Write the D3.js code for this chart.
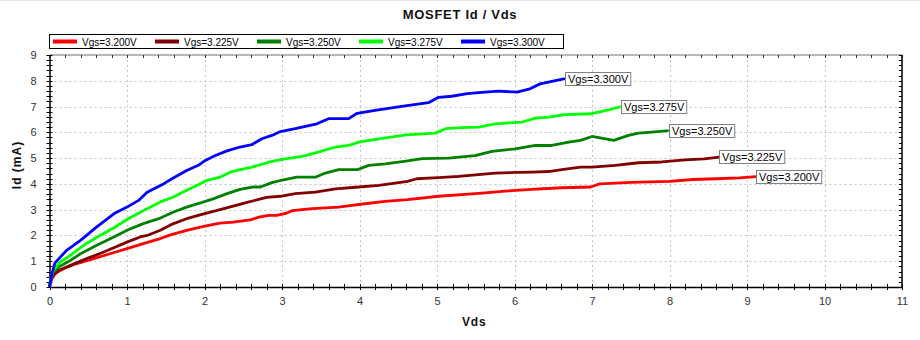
<!DOCTYPE html>
<html>
<head>
<meta charset="utf-8">
<script src="https://cdn.jsdelivr.net/npm/d3@7/dist/d3.min.js"></script>
<style>
  html, body { margin: 0; padding: 0; background: #fff; }
  svg { display: block; font-family: "Liberation Sans", Arial, sans-serif; }
</style>
</head>
<body>
<svg id="chart" width="920" height="340"></svg>
<script>
// Drain current Id (mA) versus drain-source voltage Vds (V), one curve per gate voltage
const seriesNames = ["Vgs=3.200V", "Vgs=3.225V", "Vgs=3.250V", "Vgs=3.275V", "Vgs=3.300V"];
const seriesColors = ["#ff0000", "#800000", "#008000", "#00ff00", "#0000ff"];

const vgs3200 = [[0,0],[0.01,0.19],[0.07,0.52],[0.18,0.71],[0.35,0.91],[0.57,1.1],[0.78,1.29],[1.0,1.49],[1.21,1.68],[1.43,1.88],[1.56,2.02],[1.77,2.2],[1.99,2.35],[2.2,2.48],[2.37,2.52],[2.59,2.6],[2.7,2.71],[2.83,2.78],[2.93,2.78],[3.06,2.87],[3.13,2.96],[3.39,3.04],[3.73,3.1],[3.9,3.17],[4.07,3.23],[4.33,3.32],[4.62,3.39],[5.02,3.52],[5.36,3.59],[5.58,3.64],[5.88,3.72],[6.22,3.79],[6.61,3.85],[6.98,3.88],[7.1,4.0],[7.5,4.06],[8.0,4.1],[8.3,4.17],[8.6,4.2],[8.9,4.23],[9.12,4.28]];
const vgs3225 = [[0,0],[0.03,0.39],[0.12,0.65],[0.27,0.84],[0.48,1.1],[0.7,1.36],[1.0,1.74],[1.17,1.94],[1.26,2.0],[1.43,2.2],[1.6,2.46],[1.77,2.65],[1.99,2.84],[2.2,3.0],[2.37,3.14],[2.55,3.28],[2.7,3.4],[2.8,3.48],[2.98,3.52],[3.17,3.62],[3.43,3.68],[3.69,3.81],[3.99,3.88],[4.25,3.94],[4.62,4.1],[4.74,4.2],[5.02,4.24],[5.28,4.29],[5.75,4.42],[6.22,4.46],[6.44,4.48],[6.61,4.55],[6.85,4.65],[7.0,4.65],[7.3,4.72],[7.6,4.82],[7.9,4.85],[8.2,4.93],[8.45,4.97],[8.64,5.04]];
const vgs3250 = [[0,0],[0.03,0.52],[0.12,0.78],[0.27,1.03],[0.4,1.29],[0.61,1.62],[0.83,1.94],[1.0,2.2],[1.21,2.46],[1.41,2.65],[1.6,2.91],[1.77,3.1],[1.99,3.3],[2.12,3.43],[2.29,3.62],[2.46,3.79],[2.63,3.88],[2.72,3.88],[2.87,4.05],[3.02,4.16],[3.19,4.26],[3.43,4.26],[3.56,4.42],[3.73,4.55],[3.97,4.55],[4.12,4.72],[4.33,4.78],[4.6,4.88],[4.81,4.98],[5.15,5.0],[5.49,5.1],[5.71,5.26],[6.01,5.36],[6.27,5.49],[6.48,5.49],[6.7,5.62],[6.85,5.69],[7.0,5.84],[7.28,5.69],[7.47,5.88],[7.6,5.97],[7.77,6.01],[7.99,6.07]];
const vgs3275 = [[0,0],[0.02,0.35],[0.05,0.65],[0.14,0.97],[0.27,1.23],[0.44,1.62],[0.65,2.0],[0.85,2.33],[1.0,2.62],[1.26,3.04],[1.43,3.3],[1.6,3.49],[1.77,3.75],[1.94,4.0],[2.03,4.14],[2.2,4.26],[2.35,4.48],[2.61,4.65],[2.83,4.84],[3.0,4.95],[3.26,5.07],[3.47,5.23],[3.69,5.43],[3.86,5.49],[3.99,5.62],[4.25,5.75],[4.6,5.9],[4.98,5.97],[5.11,6.14],[5.32,6.18],[5.54,6.2],[5.75,6.33],[6.1,6.4],[6.27,6.55],[6.44,6.59],[6.65,6.69],[6.98,6.72],[7.08,6.78],[7.23,6.88],[7.37,7.0]];
const vgs3300 = [[0,0],[0.03,0.5],[0.07,0.93],[0.22,1.42],[0.4,1.81],[0.61,2.33],[0.83,2.84],[1.0,3.1],[1.15,3.36],[1.26,3.68],[1.47,4.0],[1.58,4.2],[1.77,4.52],[1.92,4.72],[2.01,4.91],[2.14,5.1],[2.29,5.28],[2.46,5.43],[2.61,5.52],[2.74,5.75],[2.87,5.88],[2.98,6.03],[3.17,6.14],[3.45,6.33],[3.6,6.53],[3.86,6.53],[3.97,6.74],[4.2,6.85],[4.59,7.03],[4.89,7.15],[5.02,7.36],[5.19,7.4],[5.39,7.5],[5.58,7.55],[5.79,7.6],[6.03,7.56],[6.2,7.69],[6.33,7.88],[6.65,8.08]];

const seriesData = [vgs3200, vgs3225, vgs3250, vgs3275, vgs3300];

const xTicks = [0,1,2,3,4,5,6,7,8,9,10,11];
const yTicks = [0,1,2,3,4,5,6,7,8,9];

(function draw() {
  const svg = d3.select("#chart");
  const W = 920, H = 340;
  const pLeft = 49.5, pRight = 902, pTop = 55, pBottom = 287;

  const x = d3.scaleLinear().domain([0, 11]).range([pLeft, pRight]);
  const y = d3.scaleLinear().domain([0, 9]).range([pBottom, pTop]);
  const snap = v => Math.round(v) + 0.5;

  svg.append("rect").attr("width", W).attr("height", H).attr("fill", "#fff");
  svg.append("line").attr("x1", 0).attr("x2", W).attr("y1", 0.5).attr("y2", 0.5)
    .attr("stroke", "#e6e6e6");

  // Title
  svg.append("text").attr("x", 460).attr("y", 19).attr("text-anchor", "middle")
    .attr("font-size", 13).attr("font-weight", "bold").attr("letter-spacing", 0.7)
    .attr("fill", "#111").text("MOSFET Id / Vds");

  // Grid
  const grid = svg.append("g").attr("stroke", "#c4c4c4").attr("stroke-dasharray", "2,3");
  grid.selectAll(".gx").data(xTicks.slice(1, -1)).join("line")
    .attr("x1", d => snap(x(d))).attr("x2", d => snap(x(d)))
    .attr("y1", pTop).attr("y2", pBottom);
  grid.selectAll(".gy").data(yTicks.slice(1, -1)).join("line")
    .attr("x1", pLeft).attr("x2", pRight)
    .attr("y1", d => snap(y(d))).attr("y2", d => snap(y(d)));

  // Minor tick positions (0.2 step)
  const xMinor = d3.range(0, 56).map(i => i * 0.2).filter(v => v <= 11.0001);
  const yMinor = d3.range(0, 46).map(i => i * 0.2).filter(v => v <= 9.0001);

  // Top frame with inward ticks
  const frame = svg.append("g");
  frame.append("line").attr("x1", pLeft).attr("x2", pRight).attr("y1", pTop).attr("y2", pTop)
    .attr("stroke", "#a0a0a0").attr("stroke-width", 1.5);
  frame.selectAll(".tt").data(xMinor).join("line")
    .attr("x1", d => snap(x(d))).attr("x2", d => snap(x(d)))
    .attr("y1", pTop).attr("y2", pTop + 3).attr("stroke", "#333");

  // Right frame with inward ticks
  frame.append("line").attr("x1", pRight).attr("x2", pRight).attr("y1", pTop).attr("y2", pBottom)
    .attr("stroke", "#000").attr("stroke-width", 1.5);
  frame.selectAll(".rt").data(yMinor).join("line")
    .attr("x1", pRight - 3).attr("x2", pRight)
    .attr("y1", d => snap(y(d))).attr("y2", d => snap(y(d)))
    .attr("stroke", "#000");

  // Bottom axis
  const xAxis = svg.append("g").attr("transform", `translate(0,${pBottom})`)
    .call(d3.axisBottom(x).tickValues(xTicks).tickFormat(d3.format("d")).tickSize(0).tickPadding(10));
  xAxis.select(".domain").attr("stroke", "#000").attr("stroke-width", 1.5);
  xAxis.selectAll("text").attr("font-size", 11).attr("fill", "#333")
    .attr("font-family", "'Liberation Sans', Arial, sans-serif");
  xAxis.selectAll(".mt").data(xMinor).join("line")
    .attr("x1", d => snap(x(d))).attr("x2", d => snap(x(d)))
    .attr("y1", -3).attr("y2", 3).attr("stroke", "#000");

  // Left axis
  const yAxis = svg.append("g").attr("transform", `translate(${pLeft},0)`)
    .call(d3.axisLeft(y).tickValues(yTicks).tickFormat(d3.format("d")).tickSize(0).tickPadding(13));
  yAxis.select(".domain").attr("stroke", "#000").attr("stroke-width", 1.5);
  yAxis.selectAll("text").attr("font-size", 11).attr("fill", "#333")
    .attr("font-family", "'Liberation Sans', Arial, sans-serif");
  yAxis.selectAll(".mt").data(yMinor).join("line")
    .attr("x1", -3).attr("x2", 3)
    .attr("y1", d => snap(y(d))).attr("y2", d => snap(y(d)))
    .attr("stroke", "#000");

  // Axis titles
  svg.append("text").attr("x", 462).attr("y", 326)
    .attr("font-size", 12).attr("font-weight", "bold").attr("letter-spacing", 0.8)
    .attr("fill", "#111").text("Vds");
  svg.append("text").attr("transform", "translate(21,165) rotate(-90)")
    .attr("text-anchor", "middle").attr("font-size", 12).attr("font-weight", "bold")
    .attr("letter-spacing", 1).attr("fill", "#111").text("Id (mA)");

  // Curves
  const line = d3.line().x(d => x(d[0])).y(d => y(d[1]));
  const curves = svg.append("g");
  seriesData.forEach((pts, i) => {
    curves.append("path").datum(pts).attr("d", line)
      .attr("fill", "none").attr("stroke", seriesColors[i]).attr("stroke-width", 2.8)
      .attr("stroke-linejoin", "round").attr("stroke-linecap", "butt");
  });

  // End-of-curve labels
  seriesData.forEach((pts, i) => {
    const last = pts[pts.length - 1];
    const lx = x(last[0]), ly = y(last[1]);
    const g = svg.append("g").attr("transform", `translate(${Math.round(lx)},${Math.round(ly)})`);
    const rect = g.append("rect").attr("fill", "#fff").attr("stroke", "#808080");
    const t = g.append("text").attr("x", 3).attr("y", 4).attr("font-size", 11)
      .attr("fill", "#000").text(seriesNames[i]);
    const w = t.node().getComputedTextLength();
    rect.attr("x", 0.5).attr("y", -6.5).attr("width", w + 5).attr("height", 13);
  });

  // Legend
  const legend = svg.append("g");
  legend.append("rect").attr("x", 49.5).attr("y", 34.5).attr("width", 514).attr("height", 14)
    .attr("fill", "#fff").attr("stroke", "#000");
  seriesNames.forEach((name, i) => {
    const lx = 53 + i * 102;
    legend.append("rect").attr("x", lx).attr("y", 39.5).attr("width", 24).attr("height", 4)
      .attr("fill", seriesColors[i]);
    legend.append("text").attr("x", lx + 29).attr("y", 45.5).attr("font-size", 10)
      .attr("fill", "#000").text(name);
  });
})();
</script>
</body>
</html>
